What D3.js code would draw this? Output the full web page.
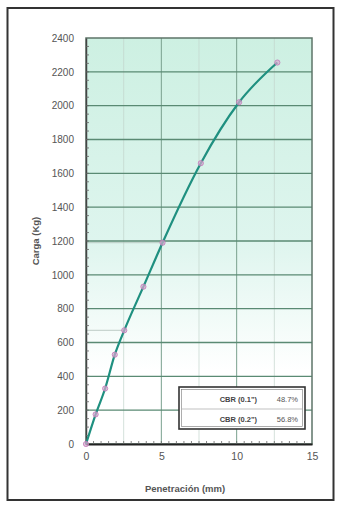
<!DOCTYPE html>
<html><head><meta charset="utf-8">
<script src="https://cdn.jsdelivr.net/npm/d3@7"></script>
<style>body{margin:0;background:#fff;}svg{display:block;}</style>
</head><body>
<svg id="c" width="340" height="506"></svg>
<script>
const penetracion = [0, 0.64, 1.27, 1.91, 2.54, 3.81, 5.08, 7.62, 10.16, 12.7];
const carga = [0, 175, 328, 528, 672, 930, 1190, 1660, 2020, 2255];
const yTicks = [0,200,400,600,800,1000,1200,1400,1600,1800,2000,2200,2400];
const xTicks = [0,5,10,15];
const legendLabels = ['CBR (0.1")','CBR (0.2")'];
const legendValues = ['48.7%','56.8%'];
const refLines = [[2.54,672],[5.08,1190]];

const svg = d3.select('#c');
const L=86,R=312,T=38,B=444;
const x = d3.scaleLinear().domain([0,15]).range([L,R]);
const y = d3.scaleLinear().domain([0,2400]).range([B,T]);
const font = 'Liberation Sans, Arial, sans-serif';

// outer frame
svg.append('rect').attr('x',7.5).attr('y',8).attr('width',326).attr('height',492)
  .attr('fill','none').attr('stroke','#333').attr('stroke-width',2);

const defs = svg.append('defs');
const g = defs.append('linearGradient').attr('id','bg').attr('x1',0).attr('y1',0).attr('x2',0).attr('y2',1);
g.append('stop').attr('offset','0%').attr('stop-color','#cdf0e2');
g.append('stop').attr('offset','50%').attr('stop-color','#def5ee');
g.append('stop').attr('offset','82%').attr('stop-color','#ffffff');
g.append('stop').attr('offset','100%').attr('stop-color','#ffffff');
svg.append('rect').attr('x',L).attr('y',T).attr('width',R-L).attr('height',B-T).attr('fill','url(#bg)');

// minor vertical grid
svg.append('g').selectAll('line').data([2.5,7.5,12.5]).join('line')
  .attr('x1',d=>x(d)).attr('x2',d=>x(d)).attr('y1',T).attr('y2',B)
  .attr('stroke','#c3d6cd').attr('stroke-width',0.7);
// major vertical grid
svg.append('g').selectAll('line').data([5,10]).join('line')
  .attr('x1',d=>x(d)).attr('x2',d=>x(d)).attr('y1',T).attr('y2',B)
  .attr('stroke','#7aa08e').attr('stroke-width',1);
// horizontal grid
svg.append('g').selectAll('line').data(yTicks.filter(d=>d>0&&d<2400)).join('line')
  .attr('x1',L).attr('x2',R).attr('y1',d=>y(d)).attr('y2',d=>y(d))
  .attr('stroke','#5a8a73').attr('stroke-width',1.3);
// reference lines
svg.append('g').selectAll('line').data(refLines).join('line')
  .attr('x1',L).attr('x2',d=>x(d[0])).attr('y1',d=>y(d[1])).attr('y2',d=>y(d[1]))
  .attr('stroke','#b0c0b9').attr('stroke-width',0.8);

// plot border
svg.append('rect').attr('x',L).attr('y',T).attr('width',R-L).attr('height',B-T)
  .attr('fill','none').attr('stroke','#5d7468').attr('stroke-width',1.5);

// axes
const yAxis = d3.axisLeft(y).tickValues(yTicks).tickFormat(d3.format('d')).tickSize(0).tickPadding(12);
const ya = svg.append('g').attr('transform',`translate(${L},0)`).call(yAxis);
ya.select('.domain').attr('stroke','#444').attr('stroke-width',1.5);
ya.selectAll('text').attr('font-family',font).attr('font-size',10).attr('fill','#555');
const xAxis = d3.axisBottom(x).tickValues(xTicks).tickFormat(d3.format('d')).tickSize(0).tickPadding(9);
const xa = svg.append('g').attr('transform',`translate(0,${B})`).call(xAxis);
xa.select('.domain').attr('stroke','#222').attr('stroke-width',2);
xa.selectAll('text').attr('font-family',font).attr('font-size',10.5).attr('fill','#555');

// minor ticks
svg.append('g').selectAll('line').data(d3.range(50,2400,50)).join('line')
  .attr('x1',L).attr('x2',L+3).attr('y1',d=>y(d)).attr('y2',d=>y(d))
  .attr('stroke','#666').attr('stroke-width',0.8);
svg.append('g').selectAll('line').data(d3.range(0.5,15,0.5)).join('line')
  .attr('x1',d=>x(d)).attr('x2',d=>x(d)).attr('y1',B).attr('y2',B-3)
  .attr('stroke','#666').attr('stroke-width',0.8);

// axis titles
svg.append('text').attr('transform',`translate(39,${(T+B)/2}) rotate(-90)`)
  .attr('text-anchor','middle').attr('font-family',font)
  .attr('font-size',9.5).attr('font-weight','bold').attr('fill','#555').text('Carga (Kg)');
svg.append('text').attr('x',185).attr('y',492)
  .attr('text-anchor','middle').attr('font-family',font)
  .attr('font-size',9.5).attr('font-weight','bold').attr('fill','#555').text('Penetración (mm)');

// curve
const pts = penetracion.map((p,i)=>[p,carga[i]]);
svg.append('path').datum(pts)
  .attr('d',d3.line().x(d=>x(d[0])).y(d=>y(d[1])).curve(d3.curveMonotoneX))
  .attr('fill','none').attr('stroke','#1f9080').attr('stroke-width',2.2);
svg.append('g').selectAll('circle').data(pts).join('circle')
  .attr('cx',d=>x(d[0])).attr('cy',d=>y(d[1])).attr('r',2.6)
  .attr('fill','#d8a8d0').attr('fill-opacity',0.7).attr('stroke','#c07ab8').attr('stroke-width',0.8);

// legend
const lg = svg.append('g');
lg.append('rect').attr('x',179).attr('y',387).attr('width',126).attr('height',42)
  .attr('fill','#fff').attr('stroke','#333').attr('stroke-width',1.6);
lg.append('rect').attr('x',181.5).attr('y',389.5).attr('width',121).attr('height',37)
  .attr('fill','none').attr('stroke','#777').attr('stroke-width',0.6);
lg.append('line').attr('x1',182).attr('x2',302).attr('y1',409).attr('y2',409)
  .attr('stroke','#999').attr('stroke-width',0.6);
lg.selectAll('text.l').data(legendLabels).join('text').attr('class','l')
  .attr('x',257).attr('y',(d,i)=>402+i*20).attr('text-anchor','end')
  .attr('font-family',font).attr('font-size',7.5)
  .attr('font-weight','bold').attr('fill','#444').text(d=>d);
lg.selectAll('text.v').data(legendValues).join('text').attr('class','v')
  .attr('x',298).attr('y',(d,i)=>402+i*20).attr('text-anchor','end')
  .attr('font-family',font).attr('font-size',7.5)
  .attr('fill','#555').text(d=>d);
</script>
</body></html>
